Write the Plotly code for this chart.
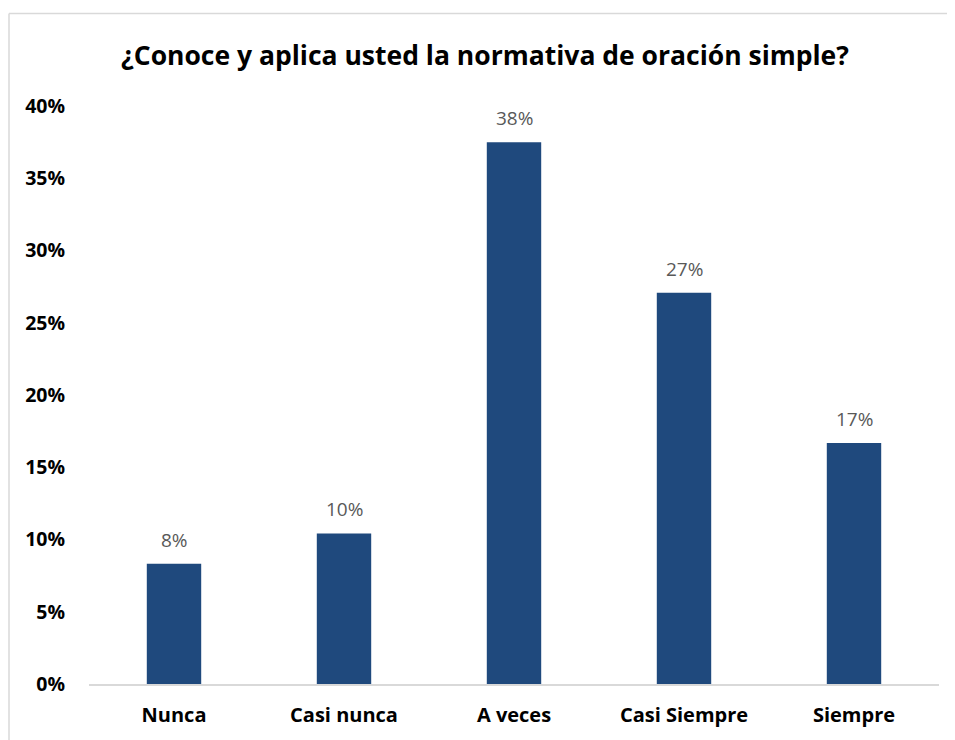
import plotly.graph_objects as go

categories = ["Nunca", "Casi nunca", "A veces", "Casi Siempre", "Siempre"]
values = [0.0833, 0.1042, 0.375, 0.2708, 0.1667]
y_ticks = [0, 0.05, 0.10, 0.15, 0.20, 0.25, 0.30, 0.35, 0.40]
y_tick_labels = ["0%", "5%", "10%", "15%", "20%", "25%", "30%", "35%", "40%"]

title = "¿Conoce y aplica usted la normativa de oración simple?"

# page body adds an 8px margin, so the figure is a bit smaller than the window
W, H = 947, 732

fig = go.Figure()
fig.add_trace(go.Bar(
    x=categories,
    y=values,
    marker=dict(color="#1F497D", line=dict(width=0)),
    width=0.32,
    showlegend=False,
))

# value labels above the bars
for cat, v in zip(categories, values):
    fig.add_annotation(
        x=cat, y=v, text=f"{v:.0%}",
        showarrow=False, yanchor="bottom", yshift=9,
        font=dict(size=19, color="#595959", family="Open Sans"),
    )

# light frame (left and top edges) around the chart area
frame = dict(color="#d9d9d9", width=1.5)
fig.add_shape(type="line", xref="paper", yref="paper",
              x0=-80 / 850, x1=-80 / 850, y0=-0.12, y1=1.16,
              line=frame, layer="below")
fig.add_shape(type="line", xref="paper", yref="paper",
              x0=-80 / 850, x1=1.05, y0=1.16, y1=1.16,
              line=frame, layer="below")

fig.update_layout(
    width=W,
    height=H,
    margin=dict(l=81, r=16, t=98, b=52),
    paper_bgcolor="white",
    plot_bgcolor="white",
    font=dict(family="Open Sans", color="black"),
    title=dict(
        text=f"<b>{title}</b>",
        x=477 / W, xref="container", xanchor="center",
        y=1 - 48 / H, yref="container", yanchor="middle",
        font=dict(size=26.5, color="black"),
    ),
    xaxis=dict(
        showline=True, linecolor="#d9d9d9", linewidth=1.5,
        ticks="", tickfont=dict(size=20, color="black"),
        tickprefix="<b>", ticksuffix="</b>",
        ticklabelstandoff=12,
    ),
    yaxis=dict(
        range=[0, 0.4],
        tickvals=y_ticks,
        ticktext=[f"<b>{t}</b>" for t in y_tick_labels],
        tickfont=dict(size=19.5, color="black"),
        showgrid=False, zeroline=False, showline=False,
        ticklabelstandoff=23,
    ),
)

fig.write_html("out.html")
